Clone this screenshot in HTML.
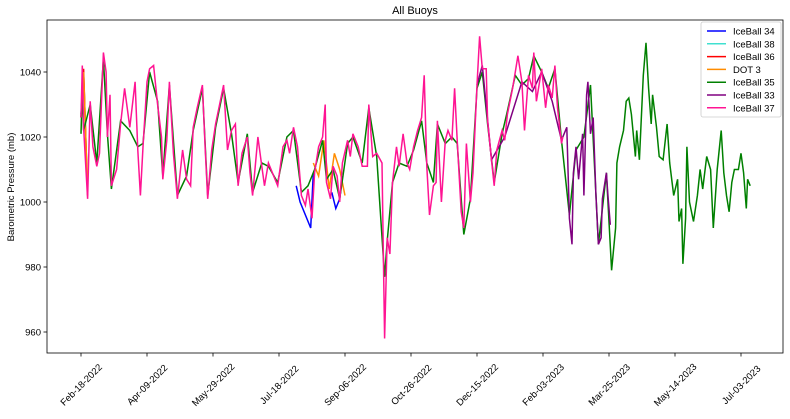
<!DOCTYPE html>
<html><head><meta charset="utf-8"><style>
body{margin:0;background:#fff;}
svg{font-family:"Liberation Sans","DejaVu Sans",sans-serif;}
</style></head><body>
<svg id="chart" width="790" height="414">
<rect width="790" height="414" fill="#fff"/>
<text x="415" y="14" text-anchor="middle" font-size="11">All Buoys</text>
<text transform="translate(14,187) rotate(-90)" text-anchor="middle" font-size="9.5">Barometric Pressure (mb)</text>
<g id="series"></g>
<g id="axes"></g>
<g id="legend"></g>
</svg>
<script>
const yTicks=[960,980,1000,1020,1040];
const xTickDays=[0,50,100,150,200,250,300,350,400,450,500];
const xTickLabels=["Feb-18-2022","Apr-09-2022","May-29-2022","Jul-18-2022","Sep-06-2022","Oct-26-2022","Dec-15-2022","Feb-03-2023","Mar-25-2023","May-14-2023","Jul-03-2023"];
const ib37Days=[0,1,2,5,7,9,12,14,17,19,20,22,23,27,30,33,37,41,43,45,47,50,52,55,58,61,62,65,67,70,73,77,80,83,85,88,92,94,96,99,102,105,108,111,114,117,119,122,126,128,130,134,137,139,142,145,149,153,156,158,161,164,167,170,172,175,177,180,183,185,186,189,191,194,196,198,202,204,206,210,213,217,218,221,224,228,230,232,234,236,239,241,244,247,249,252,255,258,260,262,264,267,269,270,273,276,278,281,283,285,288,290,292,295,297,300,302,304,307,308,311,313,315,319,321,323,327,329,331,334,336,339,342,343,345,349,352,354,357,359,361,364,365];
const ib37Vals=[1026,1042,1023,1001,1031,1017,1011,1015,1046,1040,1020,1033,1005,1010,1024,1035,1023,1037,1016,1002,1017,1037,1041,1042,1030,1020,1007,1019,1037,1015,1001,1016,1007,1005,1023,1029,1036,1017,1001,1016,1024,1030,1036,1016,1022,1024,1005,1015,1020,1009,1002,1020,1011,1005,1012,1009,1005,1017,1019,1015,1023,1017,1002,999,1004,995,1009,1017,1020,1030,1006,1001,1011,1008,1000,1012,1019,1014,1021,1017,1011,1011,1030,1014,1015,1012,958,989,984,1006,1017,1011,1021,1012,1010,1017,1022,1026,1039,1011,996,1005,1006,1025,1000,1019,1022,1019,1035,1019,997,992,1018,1000,1009,1036,1051,1041,1041,1025,1013,1005,1016,1022,1019,1027,1035,1040,1045,1037,1022,1039,1035,1046,1031,1041,1029,1036,1032,1042,1029,1018,1020];
const ib35Days=[0,1,2,7,12,17,20,23,30,37,43,47,52,58,62,67,73,80,85,92,96,102,108,114,119,126,130,137,142,149,156,161,167,172,177,183,186,191,196,202,206,213,218,224,230,232,236,241,247,252,258,262,267,270,276,281,285,290,295,300,304,308,313,319,323,329,334,339,343,349,354,359,364,370,375,381,386,392,398,402,405,406,408,411,413,415,417,420,421,423,426,428,430,432,433,436,438,441,444,446,449,452,453,455,456,458,459,461,464,467,469,471,474,477,479,482,485,487,489,491,493,495,498,500,502,504,505,507];
const ib35Vals=[1021,1035,1022,1030,1012,1044,1021,1004,1025,1022,1017,1018,1040,1031,1008,1036,1002,1008,1022,1035,1002,1023,1035,1021,1006,1021,1003,1012,1011,1006,1020,1022,1003,1005,1010,1019,1007,1010,1001,1018,1020,1012,1029,1014,977,988,1006,1012,1011,1016,1025,1012,1006,1024,1018,1020,1018,990,1001,1035,1040,1024,1006,1021,1028,1039,1036,1038,1045,1040,1035,1041,1019,996,1016,1020,1036,987,1009,979,992,1012,1017,1022,1031,1032,1027,1014,1022,1013,1039,1049,1035,1024,1033,1023,1014,1013,1024,1012,1002,1007,994,998,981,995,1017,1000,994,1002,1010,1004,1014,1010,992,1010,1022,1009,1002,997,1006,1010,1010,1015,1009,998,1007,1005];
const ib33Days=[300,304,311,321,334,342,349,357,364,365,368,370,372,373,375,377,380,381,383,384,386,388,390,392,394,395,398,399,401];
const ib33Vals=[1036,1042,1013,1020,1037,1034,1040,1031,1019,1020,1023,995,987,1009,1017,1007,1021,1002,1033,1037,1021,1026,1003,987,989,1001,1009,1003,993];
const dot3Days=[0,2,5,null,176,180,184,188,192,196,200];
const dot3Vals=[1026,1040,1003,null,1012,1008,1019,1004,1015,1010,1002];
const ib34Days=[0,2,null,163,166,170,174,176,null,190,193,196,198];
const ib34Vals=[1027,1040,null,1005,1000,996,992,1009,null,1003,998,1001,1008];
const ib36Days=[0,2,5];
const ib36Vals=[1026,1041,1002];
const ib38Days=[0,2,5];
const ib38Vals=[1026,1040,1003];
const legendNames=["IceBall 34","IceBall 38","IceBall 36","DOT 3","IceBall 35","IceBall 33","IceBall 37"];
const legendColors=["#0000ff","#40e0d0","#ff0000","#ff8c00","#008000","#800080","#ff1493"];

const L=47,R=783,T=20,B=353;
function xs(d){return 81+d*1.32;}
function ys(v){return 72+(1040-v)*3.25;}
const NS="http://www.w3.org/2000/svg";
function mk(t,a,p){const e=document.createElementNS(NS,t);for(const k in a)e.setAttribute(k,a[k]);p.appendChild(e);return e;}
const sg=document.getElementById('series');
function drawSeries(days,vals,color,name){
  let d="",start=true;
  for(let i=0;i<days.length;i++){
    if(days[i]===null||vals[i]===null){start=true;continue;}
    const x=xs(days[i]).toFixed(1),y=ys(vals[i]).toFixed(1);
    d+=(start?"M":"L")+x+","+y;start=false;
  }
  const p=mk('path',{d:d,fill:"none",stroke:color,"stroke-width":1.5,"stroke-linejoin":"miter"},sg);
  
  
}
drawSeries(ib34Days,ib34Vals,legendColors[0],'series-iceball-34');
drawSeries(ib38Days,ib38Vals,legendColors[1],'series-iceball-38');
drawSeries(ib36Days,ib36Vals,legendColors[2],'series-iceball-36');
drawSeries(dot3Days,dot3Vals,legendColors[3],'series-dot-3');
drawSeries(ib35Days,ib35Vals,legendColors[4],'series-iceball-35');
drawSeries(ib33Days,ib33Vals,legendColors[5],'series-iceball-33');
drawSeries(ib37Days,ib37Vals,legendColors[6],'series-iceball-37');

const ax=document.getElementById('axes');
const fr=mk('rect',{x:L,y:T,width:R-L,height:B-T,fill:"none",stroke:"#000","stroke-width":0.8},ax);


yTicks.forEach(v=>{
  const y=ys(v);
  const t=mk('line',{x1:L-3.5,x2:L,y1:y,y2:y,stroke:"#000","stroke-width":0.8},ax);
  
  
  const tx=mk('text',{x:L-6,y:y+3.5,"text-anchor":"end","font-size":"9.5"},ax);
  tx.textContent=v;
  
  
});
xTickDays.forEach((d,i)=>{
  const x=xs(d);
  const t=mk('line',{x1:x,x2:x,y1:B,y2:B+3.5,stroke:"#000","stroke-width":0.8},ax);
  
  
  const tx=mk('text',{transform:"translate("+(x+2.5)+",387) rotate(-45)","text-anchor":"middle","font-size":"9.5"},ax);
  tx.textContent=xTickLabels[i];
  
  
});
const lg=document.getElementById('legend');
const box=mk('rect',{x:701,y:22,width:80,height:95,rx:2,fill:"#fff","fill-opacity":0.8,stroke:"#ccc","stroke-width":0.8},lg);


legendNames.forEach((n,i)=>{
  const y=31+i*12.8;
  const ln=mk('line',{x1:707,x2:726,y1:y,y2:y,stroke:legendColors[i],"stroke-width":1.5},lg);
  
  
  const tx=mk('text',{x:733,y:y+3.5,"font-size":"9.5"},lg);
  tx.textContent=n;
  
  
});
</script>
</body></html>
